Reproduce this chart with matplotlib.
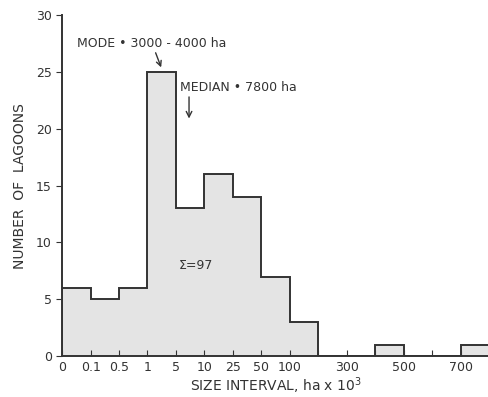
import matplotlib.pyplot as plt
import numpy as np

# size intervals (ha x 10^3), equally spaced on the chart
edge_labels = ['0', '0.1', '0.5', '1', '5', '10', '25', '50', '100', '200',
               '300', '400', '500', '600', '700', '800']
shown_labels = ['0', '0.1', '0.5', '1', '5', '10', '25', '50', '100', '',
                '300', '', '500', '', '700', '']
counts = [6, 5, 6, 25, 13, 16, 14, 7, 3, 0, 0, 1, 0, 0, 1]

edges = np.arange(len(edge_labels))

fig = plt.figure(figsize=(4.89, 3.97), dpi=100)
ax = fig.add_axes([0.127, 0.103, 0.873, 0.859])

ax.stairs(counts, edges, fill=True, color='#e4e4e4')
ax.stairs(counts, edges, color='#333333', linewidth=1.4)

ax.set_xlim(0, 14.88)
ax.set_ylim(0, 30)
ax.set_xticks(edges)
ax.set_xticklabels(shown_labels, fontsize=9, color='#333333')
ax.set_yticks([0, 5, 10, 15, 20, 25, 30])
ax.tick_params(axis='y', direction='out', length=4, labelsize=9, colors='#333333')
ax.tick_params(axis='x', direction='in', length=4, labelsize=9, colors='#333333')
for s in ['top', 'right']:
    ax.spines[s].set_visible(False)
for s in ['left', 'bottom']:
    ax.spines[s].set_color('#333333')
    ax.spines[s].set_linewidth(1.4)

ax.set_xlabel('SIZE INTERVAL, ha x 10$^3$', fontsize=10, color='#333333', labelpad=1)
ax.set_ylabel('NUMBER  OF  LAGOONS', fontsize=10, color='#333333', labelpad=6)

ax.annotate('MODE • 3000 - 4000 ha', xy=(3.48, 25.4), xytext=(0.52, 27.5),
            fontsize=9, color='#333333', va='center',
            arrowprops=dict(arrowstyle='->', color='#333333', lw=1,
                            shrinkA=0, shrinkB=0,
                            relpos=(0.52, 0)))
ax.annotate('', xy=(4.46, 20.9), xytext=(4.46, 22.8),
            arrowprops=dict(arrowstyle='->', color='#333333', lw=1,
                            shrinkA=0, shrinkB=0))
ax.text(4.15, 23.6, 'MEDIAN • 7800 ha', fontsize=9, color='#333333', va='center')
ax.text(4.7, 8.0, 'Σ=97', fontsize=9, color='#333333', ha='center', va='center')

fig.savefig('out.png', dpi=100)
